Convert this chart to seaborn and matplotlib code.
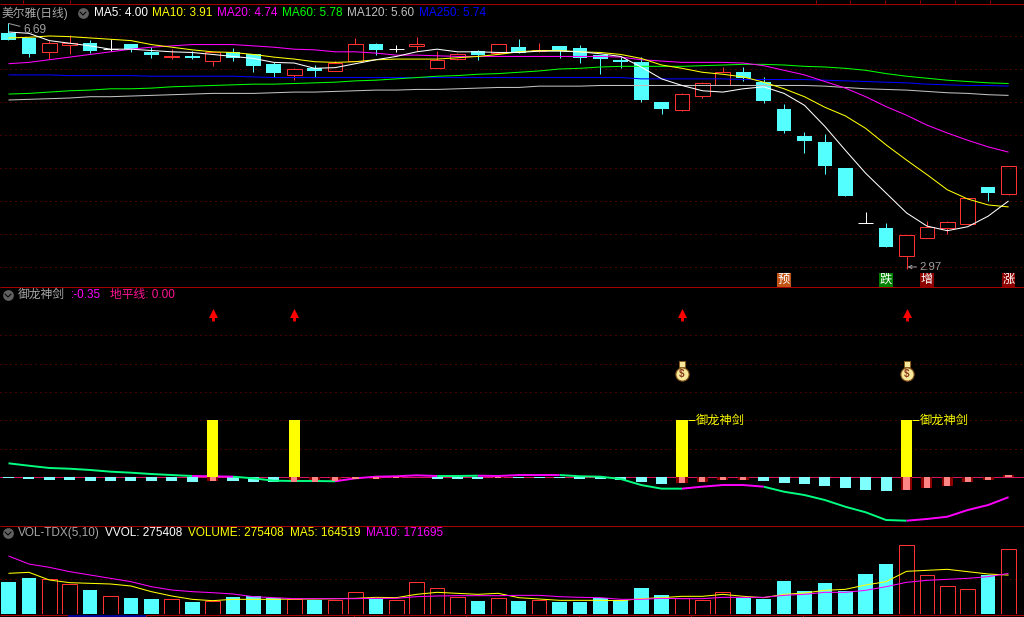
import numpy as np
import pandas as pd
import matplotlib
matplotlib.use("Agg")
import matplotlib.pyplot as plt
import seaborn as sns

CYAN = "#54ffff"
RED = "#ff3232"
FRAME = "#a80000"
GRID = "#8c0000"
PX = 0.72

opens = [6.545, 6.465, 6.262, 6.368, 6.394, 6.308, 6.379, 6.262, 6.18, 6.197,
         6.126, 6.262, 6.227, 6.076, 5.914, 6.011, 5.974, 6.117, 6.379, 6.308,
         6.353, 6.02, 6.156, 6.268, 6.247, 6.333, 6.265, 6.348, 6.318, 6.212,
         6.136, 6.106, 5.5, 5.383, 5.595, 5.762, 5.955, 5.803, 5.394, 4.985,
         4.894, 4.5, 3.662, 3.591, 3.171, 3.444, 3.595, 3.656, 4.212, 4.111]
highs = [6.69, 6.465, 6.43, 6.515, 6.44, 6.45, 6.379, 6.338, 6.298, 6.277,
         6.262, 6.314, 6.227, 6.106, 6.02, 6.06, 6.121, 6.47, 6.398, 6.359,
         6.485, 6.273, 6.247, 6.288, 6.379, 6.455, 6.398, 6.348, 6.364, 6.212,
         6.186, 6.182, 5.5, 5.632, 5.803, 6.03, 6.03, 5.874, 5.47, 5.05,
         5.015, 4.5, 3.833, 3.667, 3.48, 3.697, 3.697, 4.041, 4.212, 4.526]
lows = [6.44, 6.177, 6.147, 6.227, 6.238, 6.277, 6.258, 6.167, 6.156, 6.156,
        6.05, 6.126, 5.959, 5.883, 5.838, 5.883, 5.974, 6.117, 6.208, 6.253,
        6.277, 6.02, 6.136, 6.136, 6.247, 6.238, 6.262, 6.171, 6.095, 5.924,
        6.02, 5.505, 5.318, 5.368, 5.565, 5.762, 5.818, 5.489, 5.03, 4.732,
        4.409, 4.076, 3.662, 3.303, 2.97, 3.444, 3.5, 3.656, 4.0, 4.091]
closes = [6.44, 6.227, 6.39, 6.398, 6.273, 6.308, 6.303, 6.212, 6.19, 6.167,
          6.262, 6.171, 6.05, 5.944, 5.995, 5.974, 6.095, 6.374, 6.288, 6.308,
          6.379, 6.136, 6.223, 6.208, 6.379, 6.247, 6.288, 6.273, 6.171, 6.152,
          6.106, 5.535, 5.394, 5.617, 5.783, 5.95, 5.864, 5.515, 5.061, 4.909,
          4.53, 4.076, 3.662, 3.303, 3.48, 3.602, 3.677, 4.041, 4.121, 4.526]

ma5 = [6.56, 6.54, 6.43, 6.39, 6.35, 6.30, 6.30, 6.28, 6.26, 6.25,
       6.22, 6.19, 6.16, 6.10, 6.09, 6.01, 6.02, 6.08, 6.14, 6.19,
       6.26, 6.30, 6.26, 6.26, 6.25, 6.25, 6.27, 6.27, 6.26, 6.23,
       6.19, 6.03, 5.85, 5.75, 5.67, 5.65, 5.70, 5.73, 5.63, 5.45,
       5.13, 4.77, 4.42, 4.12, 3.82, 3.62, 3.55, 3.61, 3.77, 4.00]
ma10 = [6.47, 6.48, 6.50, 6.49, 6.47, 6.45, 6.43, 6.37, 6.33, 6.29,
        6.26, 6.25, 6.22, 6.18, 6.15, 6.11, 6.10, 6.11, 6.14, 6.15,
        6.15, 6.15, 6.17, 6.19, 6.22, 6.26, 6.28, 6.28, 6.26, 6.25,
        6.22, 6.16, 6.06, 6.01, 5.95, 5.92, 5.88, 5.80, 5.70, 5.58,
        5.42, 5.29, 5.10, 4.85, 4.62, 4.40, 4.17, 4.03, 3.94, 3.91]
ma20 = [6.08, 6.10, 6.14, 6.18, 6.22, 6.26, 6.30, 6.33, 6.35, 6.37,
        6.37, 6.37, 6.35, 6.33, 6.30, 6.29, 6.26, 6.26, 6.24, 6.21,
        6.21, 6.20, 6.19, 6.19, 6.19, 6.19, 6.19, 6.19, 6.19, 6.19,
        6.18, 6.14, 6.12, 6.10, 6.10, 6.10, 6.09, 6.05, 5.98, 5.91,
        5.81, 5.71, 5.58, 5.43, 5.30, 5.15, 5.03, 4.92, 4.82, 4.74]
ma60 = [5.62, 5.63, 5.65, 5.67, 5.68, 5.70, 5.70, 5.71, 5.73, 5.74,
        5.75, 5.76, 5.77, 5.77, 5.78, 5.79, 5.80, 5.82, 5.83, 5.85,
        5.87, 5.89, 5.90, 5.92, 5.93, 5.95, 5.97, 6.00, 6.01, 6.03,
        6.04, 6.04, 6.04, 6.04, 6.05, 6.06, 6.07, 6.07, 6.06, 6.04,
        6.03, 6.01, 5.98, 5.93, 5.89, 5.86, 5.83, 5.81, 5.79, 5.78]
ma120 = [5.53, 5.54, 5.55, 5.56, 5.58, 5.58, 5.59, 5.60, 5.61, 5.62,
         5.63, 5.63, 5.63, 5.64, 5.65, 5.65, 5.66, 5.67, 5.68, 5.68,
         5.69, 5.69, 5.70, 5.71, 5.72, 5.72, 5.74, 5.74, 5.74, 5.75,
         5.75, 5.75, 5.75, 5.75, 5.75, 5.75, 5.75, 5.75, 5.75, 5.75,
         5.74, 5.72, 5.70, 5.69, 5.68, 5.66, 5.64, 5.63, 5.61, 5.60]
ma250 = [5.91, 5.91, 5.91, 5.90, 5.90, 5.90, 5.90, 5.89, 5.89, 5.89,
         5.89, 5.89, 5.88, 5.87, 5.87, 5.87, 5.87, 5.87, 5.87, 5.87,
         5.87, 5.87, 5.87, 5.87, 5.87, 5.87, 5.87, 5.87, 5.87, 5.87,
         5.87, 5.85, 5.85, 5.85, 5.85, 5.85, 5.84, 5.84, 5.84, 5.84,
         5.83, 5.82, 5.81, 5.80, 5.79, 5.77, 5.76, 5.75, 5.75, 5.74]

sword_line = [0.246, 0.204, 0.164, 0.151, 0.129, 0.099, 0.081, 0.058, 0.04, 0.023,
              0.018, 0.011, -0.018, -0.06, -0.065, -0.065, -0.07, -0.018, 0.011, 0.018,
              0.035, 0.023, 0.023, 0.028, 0.023, 0.04, 0.04, 0.04, 0.018, 0.011,
              -0.03, -0.136, -0.2, -0.2, -0.165, -0.136, -0.136, -0.165, -0.254, -0.312,
              -0.40, -0.518, -0.616, -0.752, -0.764, -0.734, -0.694, -0.576, -0.488, -0.35]
sword_hist = [-0.012, -0.029, -0.047, -0.047, -0.065, -0.065, -0.065, -0.065, -0.065, -0.082,
              -0.065, -0.065, -0.082, -0.082, -0.082, -0.082, -0.065, -0.029, -0.029, -0.012,
              0.012, -0.029, -0.029, -0.029, -0.012, -0.012, -0.012, -0.012, -0.029, -0.029,
              -0.047, -0.082, -0.117, -0.10, -0.082, -0.047, -0.047, -0.065, -0.10, -0.117,
              -0.153, -0.188, -0.223, -0.24, -0.223, -0.188, -0.153, -0.082, -0.047, 0.041]
hist_red = [10, 14, 15, 16, 17, 18, 19, 20, 24, 33, 34, 35, 36, 44, 45, 46, 47, 48, 49]
rising_runs = [(9, 11), (16, 21), (23, 27), (33, 37), (44, 49)]
falling_runs = [(0, 9), (11, 16), (21, 23), (27, 33), (37, 44)]
signal_days = [10, 14, 33, 44]
signal_height = [1.0, 1.0, 1.0, 1.0]
arrow_days = [10, 14, 33, 44]
bag_days = [33, 44]

volume = [135360, 152280, 146640, 125490, 101520, 74730, 67680, 63450, 62040, 50760,
          56400, 73320, 76140, 67680, 62040, 59220, 57810, 91650, 63450, 57810,
          133950, 108570, 70500, 54990, 66270, 54990, 57810, 50760, 50760, 69090,
          59220, 109980, 80370, 66270, 60630, 91650, 69090, 63450, 139590, 97290,
          131130, 95880, 169200, 211500, 290460, 163560, 117030, 104340, 163560, 275408]
volume_up = [2, 3, 5, 8, 10, 14, 16, 17, 19, 20, 21, 22, 24, 26, 33, 34, 35, 44, 45, 46, 47, 49]
vol_ma5 = [172020, 176250, 143820, 132540, 129720, 126900, 118440, 94470, 76140, 62040,
           56400, 62040, 62040, 62040, 63450, 63450, 64860, 66270, 70500, 69090,
           83190, 91650, 87420, 83190, 87420, 69090, 63450, 57810, 57810, 57810,
           56400, 64860, 69090, 74730, 74730, 83190, 74730, 69090, 83190, 88830,
           100110, 104340, 122670, 136770, 180480, 184710, 188940, 179070, 169200, 164519]
vol_ma10 = [245340, 211500, 197400, 179070, 164970, 150870, 136770, 115620, 101520, 94470,
            90240, 84600, 73320, 69090, 64860, 64860, 64860, 64860, 66270, 66270,
            73320, 76140, 77550, 77550, 77550, 78960, 78960, 73320, 70500, 69090,
            62040, 62040, 66270, 64860, 64860, 70500, 70500, 70500, 78960, 83190,
            91650, 91650, 100110, 115620, 133950, 142410, 146640, 150870, 157920, 171695]

flag_days = [38, 43, 45, 49]
flag_text = ["预", "跌", "增", "涨"]
flag_colors = ["#c05414", "#008000", "#8c0000", "#8c0000"]

days = np.arange(len(closes))
XLIM = (-0.416, 49.757)
LATIN = ["Liberation Sans", "Noto Sans CJK SC"]
CJK = ["Noto Sans CJK SC", "Liberation Sans"]

sns.set_theme(style="dark", rc={"axes.facecolor": "black", "figure.facecolor": "black"})
plt.rcParams["font.family"] = LATIN

fig = plt.figure(figsize=(10.24, 6.17), dpi=100)


def pane(top, bottom):
    ax = fig.add_axes([0, 1 - bottom / 617, 1, (bottom - top) / 617])
    ax.set_facecolor("black")
    return ax


def draw_line(ax, y, color, lw=0.75, x=None):
    sns.lineplot(x=days if x is None else x, y=y, color=color, linewidth=lw, ax=ax,
                 estimator=None, errorbar=None,
                 solid_capstyle="butt", solid_joinstyle="miter")


def grid(ax, levels):
    for lv in levels:
        ax.axhline(lv, color=GRID, lw=PX, ls=(0, (1, 4)), zorder=0)


def finish(ax, ylim):
    ax.set_xlim(*XLIM)
    ax.set_ylim(*ylim)
    ax.set_axis_off()


# K line pane
ax1 = pane(3.5, 286)
grid(ax1, [3, 3.5, 4, 4.5, 5, 5.5, 6, 6.5])
for i in days:
    o, h, l, c = opens[i], highs[i], lows[i], closes[i]
    if c == o:
        ax1.hlines(c, i - 0.36, i + 0.36, color="white", lw=PX, snap=True)
        ax1.vlines(i, l, h, color="white", lw=PX, snap=True)
    elif c > o:
        ax1.vlines(i, c, h, color=RED, lw=PX, snap=True)
        ax1.vlines(i, l, o, color=RED, lw=PX, snap=True)
        ax1.bar(i, c - o, bottom=o, width=0.72, facecolor="none", edgecolor=RED, lw=PX, snap=True)
    else:
        ax1.vlines(i, l, h, color=CYAN, lw=PX, snap=True)
        ax1.bar(i, o - c, bottom=c, width=0.72, color=CYAN, lw=0, snap=True)

draw_line(ax1, ma250, "#0000ff")
draw_line(ax1, ma120, "#c0c0c0")
draw_line(ax1, ma60, "#00ff00")
draw_line(ax1, ma20, "#ff00ff")
draw_line(ax1, ma10, "#ffff00")
draw_line(ax1, ma5, "#ffffff")

ax1.annotate("6.69", xy=(0, 6.69), xytext=(0.72, 6.59), color="#a0a0a0", fontsize=8.6,
             va="center", arrowprops=dict(arrowstyle="-", color="#a0a0a0", lw=PX,
                                          shrinkA=0, shrinkB=0))
ax1.annotate("2.97", xy=(44.05, 3.0), xytext=(44.65, 3.0), color="#a0a0a0", fontsize=8.2,
             va="center", arrowprops=dict(arrowstyle="->", color="#a0a0a0", lw=PX,
                                          shrinkA=0, shrinkB=0, mutation_scale=6))
for d, t, col in zip(flag_days, flag_text, flag_colors):
    ax1.text(d, 2.81, t, color="white", fontsize=8.8, family=CJK, ha="center", va="center",
             zorder=6, bbox=dict(boxstyle="square,pad=0.04", fc=col, ec="none"))
finish(ax1, (2.712, 6.992))

# 御龙神剑 pane
ax2 = pane(286, 525)
grid(ax2, [0.5, 1.0, 1.5, 2.0, 2.5])
ax2.axhline(0, color="#d81460", lw=PX, zorder=1)
for i in days:
    if i in hist_red:
        ax2.bar(i, sword_hist[i], width=0.54, color="#8c0000", lw=0, zorder=2)
        ax2.bar(i, sword_hist[i], width=0.3, color="#ff8484", lw=0, zorder=3)
    else:
        ax2.bar(i, sword_hist[i], width=0.54, color="#80ffff", lw=0, zorder=2)
ax2.bar(signal_days, signal_height, width=0.54, color="#ffff00", lw=0, zorder=4)
for a, b in falling_runs:
    draw_line(ax2, sword_line[a:b + 1], "#00ff80", lw=1.4, x=days[a:b + 1])
for a, b in rising_runs:
    draw_line(ax2, sword_line[a:b + 1], "#ff00ff", lw=1.4, x=days[a:b + 1])

ax2.vlines(arrow_days, 2.75, 2.88, color="#ff0000", lw=2.0)
sns.scatterplot(x=arrow_days, y=[2.9] * 4, marker="^", s=42, color="#ff0000", linewidth=0, ax=ax2)
sns.scatterplot(x=bag_days, y=[1.81] * 2, marker="o", s=90, color="#f8e89c",
                edgecolor="#8a5a1c", linewidth=0.8, ax=ax2, zorder=5)
sns.scatterplot(x=bag_days, y=[1.99] * 2, marker="s", s=16, color="#f8e89c",
                edgecolor="#8a5a1c", linewidth=0.6, ax=ax2, zorder=5)
for d in bag_days:
    ax2.text(d, 1.81, "$", color="#8a3a1c", fontsize=7, weight="bold", ha="center",
             va="center", zorder=6)
    ax2.hlines(1.0, d + 0.27, d + 0.62, color="#ffff00", lw=PX, snap=True)
    ax2.text(d + 0.66, 1.0, "御龙神剑", color="#ffff00", fontsize=8.8, family=CJK, va="center")
finish(ax2, ((477.3 - 525) / 56.8, (477.3 - 286) / 56.8))

# volume pane
ax3 = pane(525, 614)
grid(ax3, [150000])
frame = pd.DataFrame({"day": days, "volume": volume})
up_rows = frame[frame["day"].isin(volume_up)]
down_rows = frame[~frame["day"].isin(volume_up)]
sns.barplot(data=down_rows, x="day", y="volume", native_scale=True, width=0.72, color=CYAN,
            saturation=1, errorbar=None, linewidth=0, ax=ax3)
sns.barplot(data=up_rows, x="day", y="volume", native_scale=True, width=0.72, color=RED,
            saturation=1, errorbar=None, fill=False, linewidth=PX, snap=True, ax=ax3)
draw_line(ax3, vol_ma5, "#ffff00")
draw_line(ax3, vol_ma10, "#ff00ff")
finish(ax3, (0, 89 * 4230))

# frame lines, headers: overlay in pixels
over = fig.add_axes([0, 0, 1, 1], zorder=10)
over.set_xlim(0, 1024)
over.set_ylim(617, 0)
over.set_axis_off()
over.patch.set_alpha(0)
for y in [3.5, 286.5, 525.5, 614.5]:
    over.hlines(y, 0, 1024, color=FRAME, lw=PX, snap=True)
over.vlines([23, 70, 816, 850, 885, 920, 955, 990], 0, 3, color=FRAME, lw=PX, snap=True)
over.vlines([68, 146, 354, 466, 579, 691, 803], 615, 617, color=FRAME, lw=PX, snap=True)
over.hlines(616, 68, 146, color="#000090", lw=1.44)


def header(items, y, size=8.5):
    for x, s, col in items:
        over.text(x, y, s, color=col, fontsize=size, va="center", family=LATIN)


def knob(x, y):
    over.scatter([x], [y], s=60, color="#606060", linewidth=0)
    over.plot([x - 3, x, x + 3], [y - 1, y + 2, y - 1], color="black", lw=PX)


header([(2, "美尔雅(日线)", "#a8a8a8"),
        (94, "MA5: 4.00", "#ffffff"),
        (152, "MA10: 3.91", "#ffff00"),
        (217, "MA20: 4.74", "#ff00ff"),
        (282, "MA60: 5.78", "#00ff00"),
        (347, "MA120: 5.60", "#c0c0c0"),
        (419, "MA250: 5.74", "#0000ff")], 13)
knob(83, 13)
header([(18, "御龙神剑", "#a8a8a8"),
        (71, ":-0.35", "#ff00ff"),
        (110, "地平线: 0.00", "#ff1493")], 295)
knob(8, 295)
header([(18, "VOL-TDX(5,10)", "#a8a8a8"),
        (105, "VVOL: 275408", "#ffffff"),
        (188, "VOLUME: 275408", "#ffff00"),
        (290, "MA5: 164519", "#ffff00"),
        (366, "MA10: 171695", "#ff00ff")], 533)
knob(8, 533)

fig.savefig("out.png", dpi=100, facecolor="black")
